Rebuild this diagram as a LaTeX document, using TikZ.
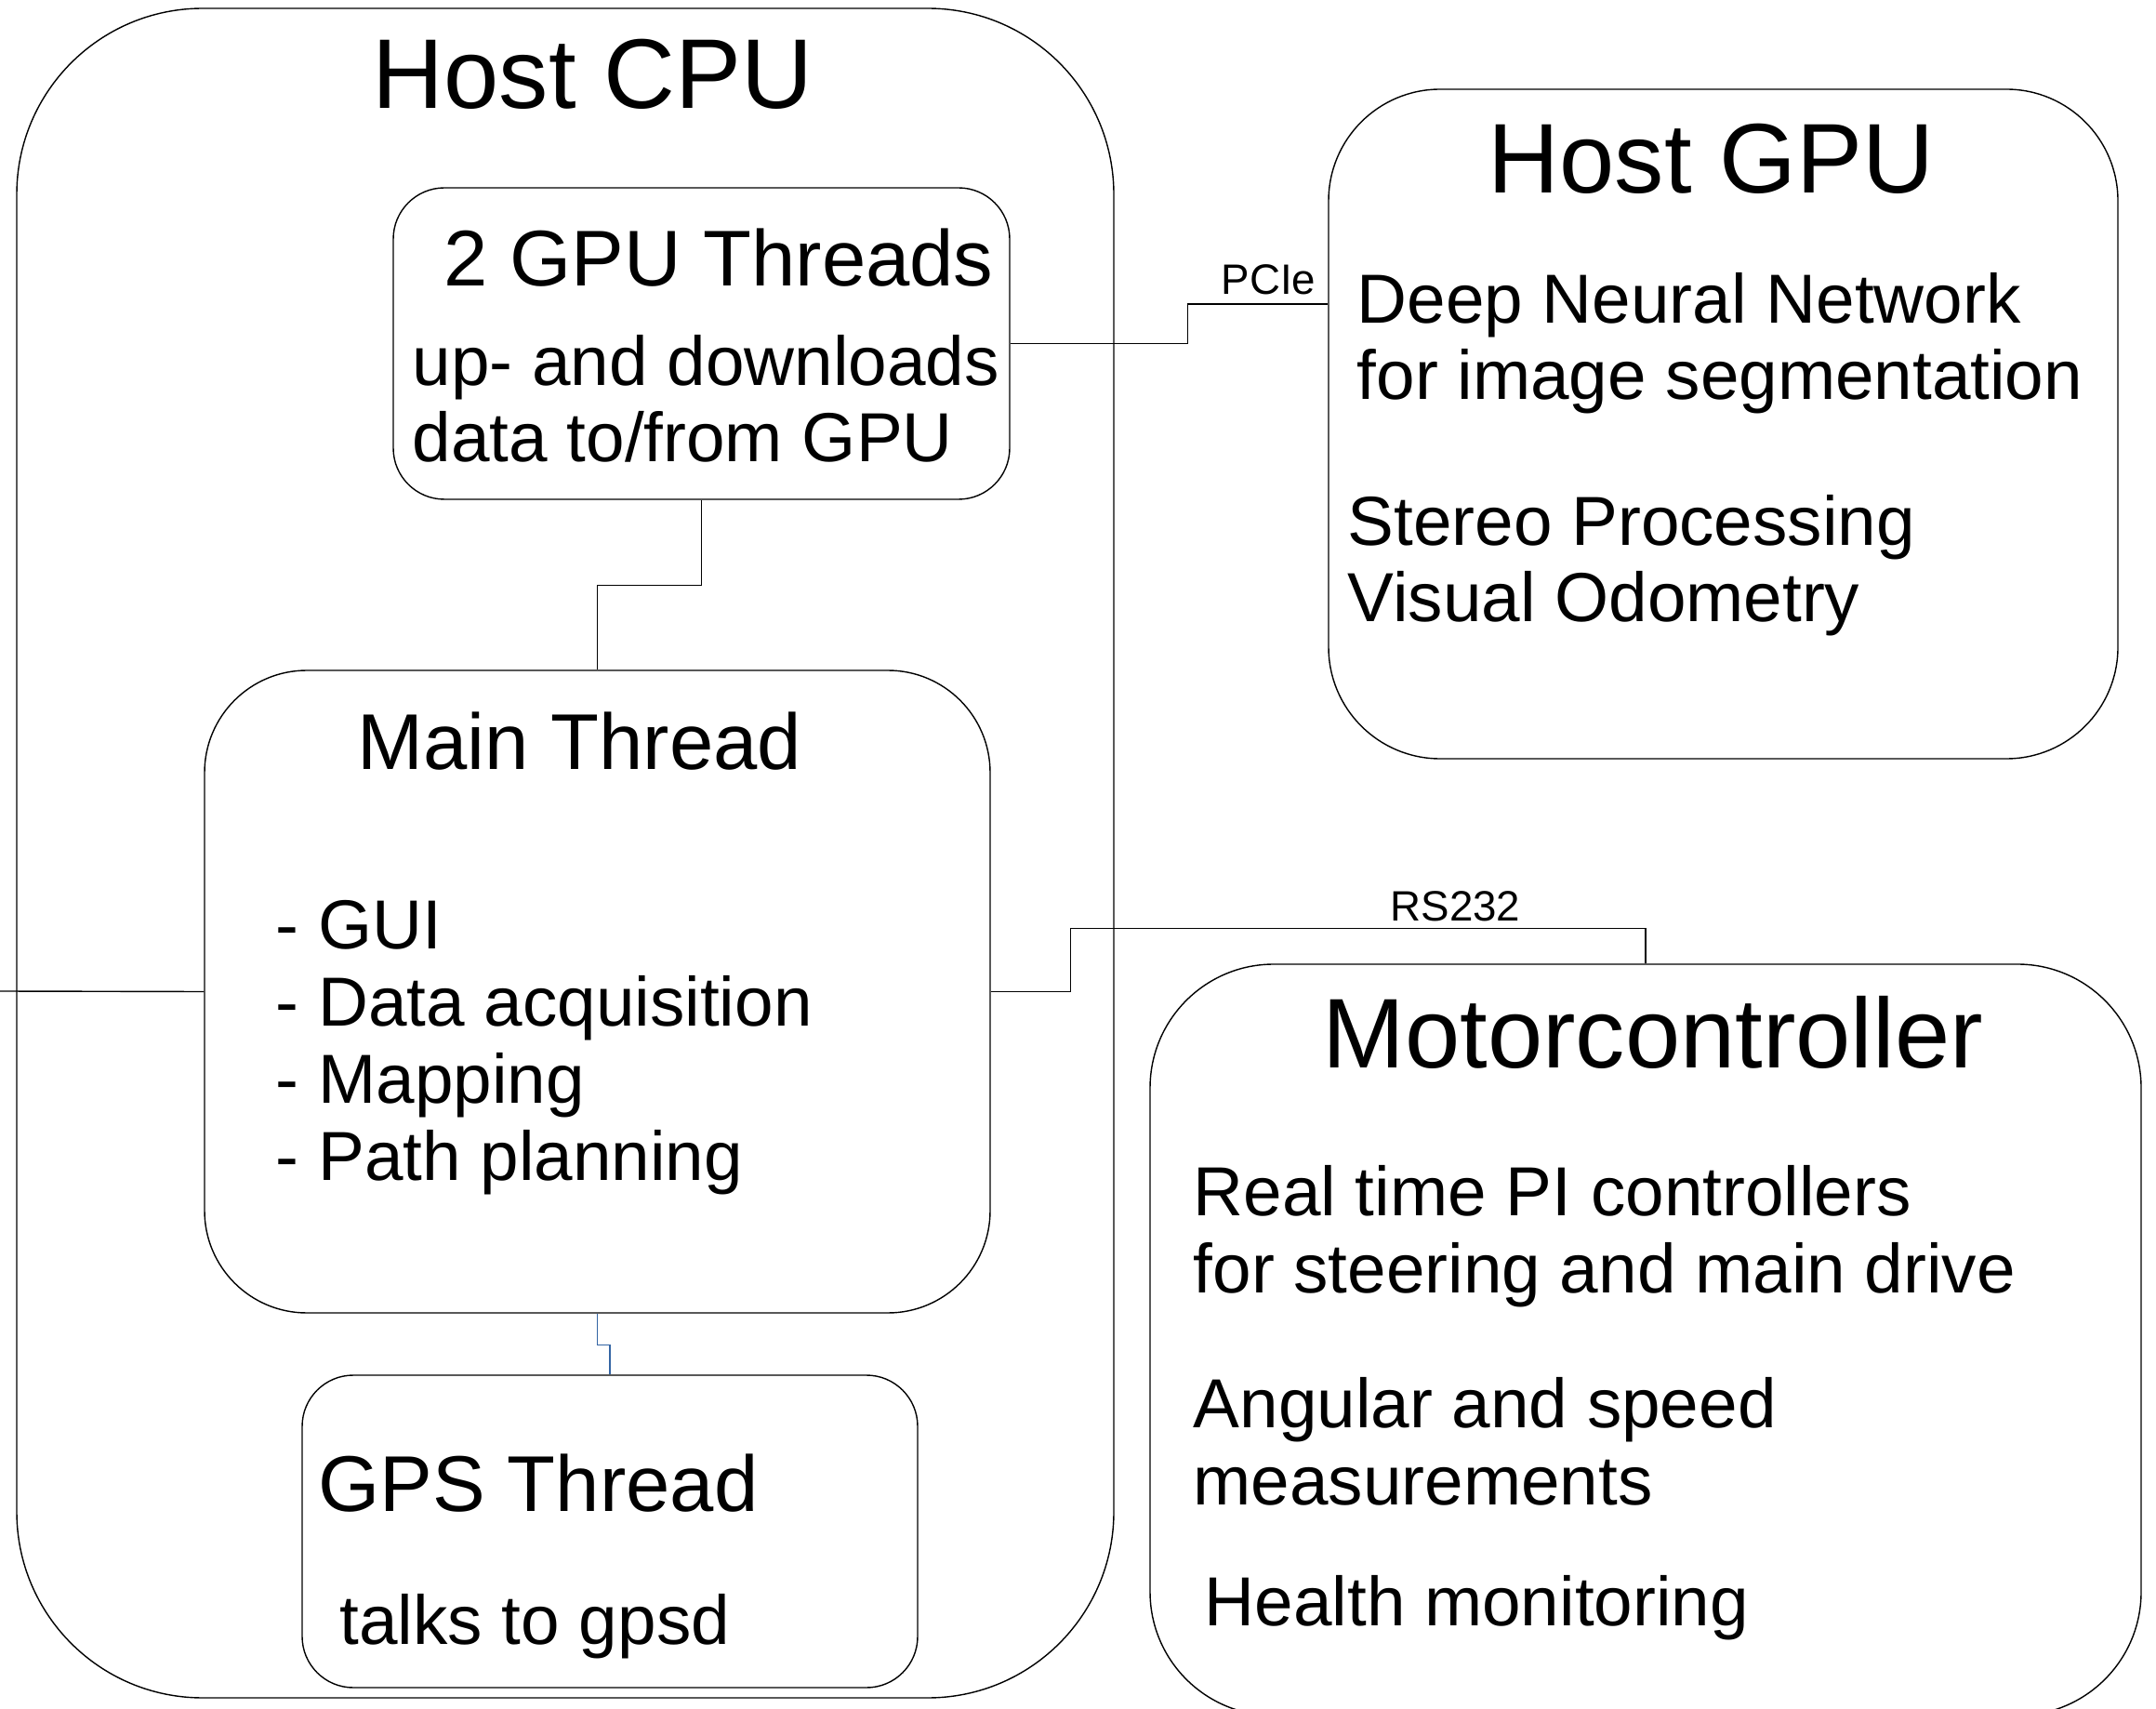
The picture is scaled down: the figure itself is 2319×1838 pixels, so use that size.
\documentclass[tikz,border=0pt]{standalone}
\usepackage{fontspec}
\setmainfont{Liberation Sans}
\usetikzlibrary{positioning}
\definecolor{gpsblue}{HTML}{3465A4}

\begin{document}
\begin{tikzpicture}[
    x=0.1mm, y=-0.1mm,
    box/.style={draw, line width=0.4pt, inner sep=0pt},
    title/.style={anchor=base west, inner sep=0pt, font=\fontsize{30.3}{34}\selectfont},
    head/.style={anchor=base west, inner sep=0pt, font=\fontsize{24.2}{28}\selectfont},
    body/.style={anchor=base west, inner sep=0pt, align=left, font=\fontsize{21.25}{23.6}\selectfont},
    lab/.style={anchor=base west, inner sep=0pt, font=\fontsize{13}{15}\selectfont},
    link/.style={line width=0.4pt}
]
\useasboundingbox (0,0) rectangle (2319,1838);

\node[box, rounded corners=20mm, minimum width=118mm, minimum height=181.7mm] (cpu) at (608,917.5) {};
\node[box, rounded corners=5.5mm, minimum width=66.3mm, minimum height=33.5mm] (gputh) at (754.5,369.5) {};
\node[box, rounded corners=11mm, minimum width=84.5mm, minimum height=69.1mm] (main) at (642.5,1066.5) {};
\node[box, rounded corners=5.5mm, minimum width=66.2mm, minimum height=33.6mm] (gps) at (656,1647) {};
\node[box, rounded corners=12mm, minimum width=84.9mm, minimum height=72mm] (gpu) at (1853.5,456) {};
\node[box, rounded corners=13.3mm, minimum width=106.6mm, minimum height=80.8mm] (motor) at (1770,1441) {};

\node[title] (cputitle) at (400,117) {Host CPU};
\node[head] (gputhtitle) at (477,308) {2 GPU Threads};
\node[body] (gputhtext) at (443,497) {up- and downloads\\data to/from GPU};
\node[head] (maintitle) at (384,828) {Main Thread};
\node[body] (maintext) at (296,1269) {- GUI\\- Data acquisition\\- Mapping\\- Path planning};
\node[head] (gpstitle) at (342,1625) {GPS Thread};
\node[body] (gpstext) at (365,1768) {talks to gpsd};

\node[title] (gputitle) at (1600,208) {Host GPU};
\node[body] (dnntext) at (1459,430) {Deep Neural Network\\for image segmentation};
\node[body] (stereotext) at (1449,669) {Stereo Processing\\Visual Odometry};

\node[title] (motortitle) at (1422,1148) {Motorcontroller};
\node[body] (pitext) at (1283,1390) {Real time PI controllers\\for steering and main drive};
\node[body] (meastext) at (1283,1618) {Angular and speed\\measurements};
\node[body] (healthtext) at (1295,1748) {Health monitoring};

\node[lab] (pcie) at (1313,317) {PCIe};
\node[lab] (rs232) at (1495,990) {RS232};

\coordinate (offleft) at (0,1066);
\draw[link] (gputh.east) -- ++(191,0) |- ([yshift=12.9mm]gpu.west);
\draw[link] (gputh.south) -- ++(0,92) -| (main.north);
\draw[link, gpsblue] (main.south) -- ++(0,34) -| (gps.north);
\draw[link] (main.east) -- ++(86,0) |- ([yshift=3.8mm]motor.north) -- (motor.north);
\draw[link] (offleft) -- (main.west);
\end{tikzpicture}
\end{document}
